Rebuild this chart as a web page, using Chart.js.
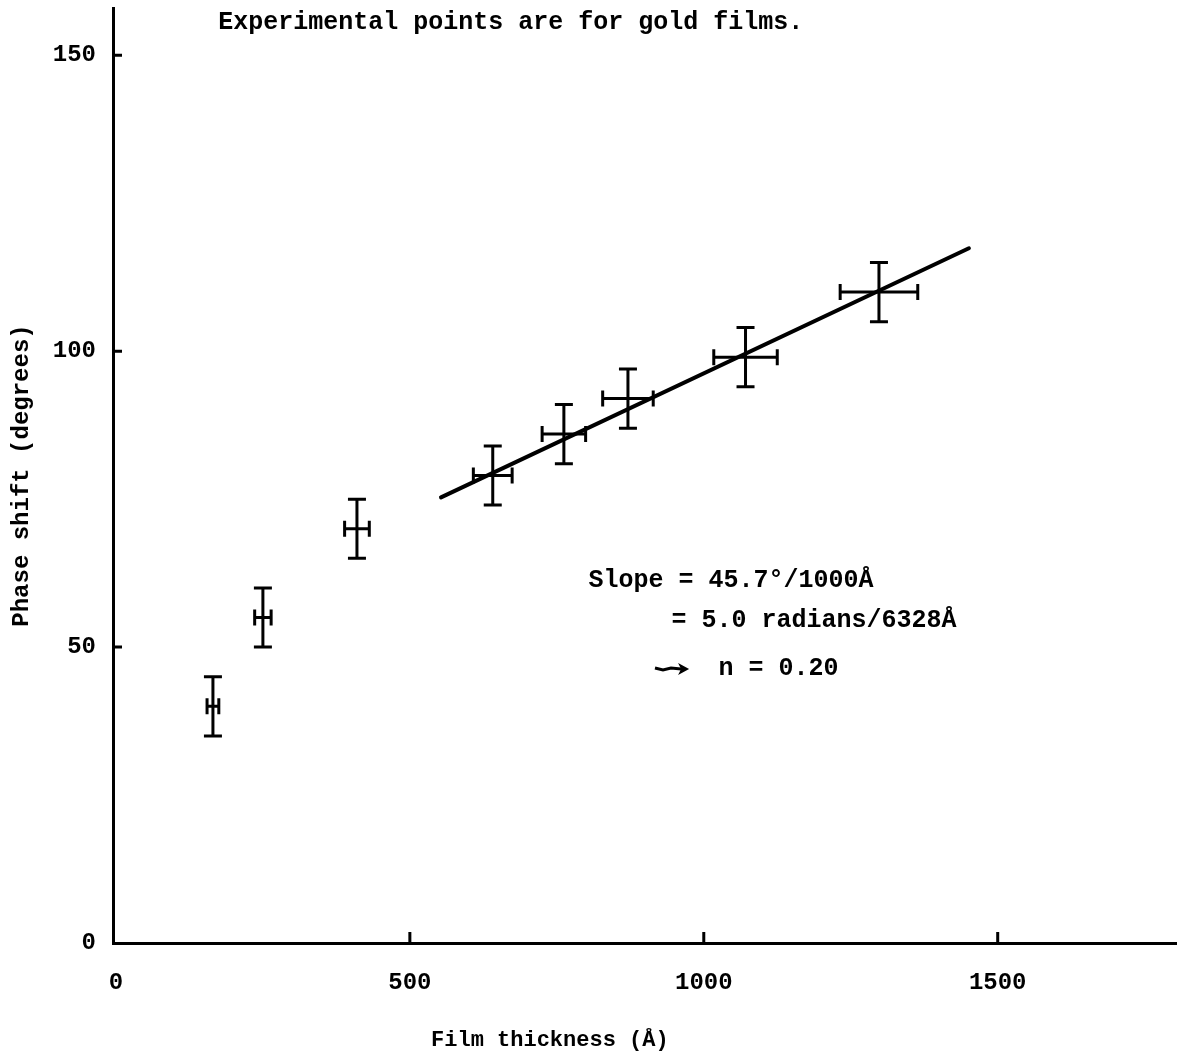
<!DOCTYPE html>
<html>
<head>
<meta charset="utf-8">
<script src="https://cdn.jsdelivr.net/npm/chart.js@4/dist/chart.umd.min.js"></script>
<style>
  html, body { margin: 0; padding: 0; background: #fff; }
  #wrap { width: 1177px; height: 1058px; }
</style>
</head>
<body>
<div id="wrap"><canvas id="myChart"></canvas></div>
<script>
// Data (gold films)
// =======================================================
var thickness = [165, 250, 410, 641, 762, 871, 1071, 1298];
var phase = [40, 55, 70, 79, 86, 92, 99, 110];
var thicknessErr = [10, 14, 21, 33, 37, 43, 54, 66];
var phaseErr = [5, 5, 5, 5, 5, 5, 5, 5];

// straight line fit through the thicker films
var fitX = [553, 1451];
var fitY = [75.3, 117.4];

var xTicks = [0, 500, 1000, 1500];
var yTicks = [0, 50, 100, 150];

var FONT = "'Liberation Mono', 'DejaVu Sans Mono', monospace";

var points = thickness.map(function (t, i) { return { x: t, y: phase[i] }; });
var fitLine = fitX.map(function (t, i) { return { x: t, y: fitY[i] }; });

// Error bars drawn through the scales
// =======================================================
var errorBars = {
    id: "errorBars",
    afterDatasetsDraw: function (chart) {
        var ctx = chart.ctx;
        var xs = chart.scales.x;
        var ys = chart.scales.y;
        ctx.save();
        ctx.strokeStyle = "#000";
        ctx.lineWidth = 3;
        ctx.lineCap = "butt";
        for (var i = 0; i < thickness.length; i++) {
            var cx = xs.getPixelForValue(thickness[i]);
            var cy = ys.getPixelForValue(phase[i]);
            var x0 = xs.getPixelForValue(thickness[i] - thicknessErr[i]);
            var x1 = xs.getPixelForValue(thickness[i] + thicknessErr[i]);
            var y0 = ys.getPixelForValue(phase[i] - phaseErr[i]);
            var y1 = ys.getPixelForValue(phase[i] + phaseErr[i]);
            ctx.beginPath();
            // vertical bar + caps
            ctx.moveTo(cx, y0); ctx.lineTo(cx, y1);
            ctx.moveTo(cx - 9, y0); ctx.lineTo(cx + 9, y0);
            ctx.moveTo(cx - 9, y1); ctx.lineTo(cx + 9, y1);
            // horizontal bar + caps
            ctx.moveTo(x0, cy); ctx.lineTo(x1, cy);
            ctx.moveTo(x0, cy - 8); ctx.lineTo(x0, cy + 8);
            ctx.moveTo(x1, cy - 8); ctx.lineTo(x1, cy + 8);
            ctx.stroke();
        }
        ctx.restore();
    }
};

// Inward tick marks, x title and the typed notes
// =======================================================
var extras = {
    id: "extras",
    afterDraw: function (chart) {
        var ctx = chart.ctx;
        var xs = chart.scales.x;
        var ys = chart.scales.y;
        var area = chart.chartArea;
        ctx.save();
        ctx.strokeStyle = "#000";
        ctx.lineWidth = 3;
        ctx.beginPath();
        xTicks.forEach(function (v) {
            if (v === 0) return;
            var px = xs.getPixelForValue(v);
            ctx.moveTo(px, area.bottom); ctx.lineTo(px, area.bottom - 11);
        });
        yTicks.forEach(function (v) {
            if (v === 0) return;
            var py = ys.getPixelForValue(v);
            ctx.moveTo(area.left, py); ctx.lineTo(area.left + 9, py);
        });
        ctx.stroke();

        ctx.fillStyle = "#000";
        ctx.textBaseline = "middle";
        ctx.textAlign = "left";
        ctx.font = "bold 25px " + FONT;
        ctx.fillText("Experimental points are for gold films.", xs.getPixelForValue(174), ys.getPixelForValue(155.5));
        ctx.fillText("Slope = 45.7°/1000Å", xs.getPixelForValue(804), ys.getPixelForValue(61.3));
        ctx.fillText("= 5.0 radians/6328Å", xs.getPixelForValue(945), ys.getPixelForValue(54.5));
        ctx.fillText("n = 0.20", xs.getPixelForValue(1025), ys.getPixelForValue(46.3));

        // arrow in front of n = 0.20
        var ay = ys.getPixelForValue(46.3);
        var ax0 = xs.getPixelForValue(917);
        var ax1 = xs.getPixelForValue(975);
        ctx.lineWidth = 3;
        ctx.beginPath();
        ctx.moveTo(ax0, ay - 1);
        ctx.lineTo(ax0 + 8, ay + 1);
        ctx.lineTo(ax0 + 16, ay - 1);
        ctx.lineTo(ax1 - 8, ay);
        ctx.stroke();
        ctx.beginPath();
        ctx.moveTo(ax1, ay);
        ctx.lineTo(ax1 - 11, ay - 6);
        ctx.lineTo(ax1 - 8, ay);
        ctx.lineTo(ax1 - 11, ay + 6);
        ctx.closePath();
        ctx.fill();

        // x axis title, typed left of the axis centre
        ctx.font = "bold 22px " + FONT;
        ctx.fillText("Film thickness (Å)", xs.getPixelForValue(536), area.bottom + 97);
        ctx.restore();
    }
};

var ctx = document.getElementById("myChart");

var myChart = new Chart(ctx, {
    type: "scatter",
    data: {
        datasets: [{
            label: "gold films",
            data: points,
            pointRadius: 0,
            showLine: false
        }, {
            label: "fit",
            data: fitLine,
            showLine: true,
            borderColor: "#000",
            borderWidth: 4,
            pointRadius: 0,
            borderCapStyle: "round"
        }]
    },
    options: {
        responsive: true,
        maintainAspectRatio: false,
        animation: false,
        layout: {
            padding: { left: 0, right: 0, top: 8, bottom: 0 }
        },
        plugins: {
            legend: { display: false },
            tooltip: { enabled: false }
        },
        scales: {
            x: {
                type: "linear",
                min: -5,
                max: 1805,
                afterFit: function (s) {
                    s.height = 115;
                    s.paddingLeft = 0;
                    s.paddingRight = 0;
                },
                afterBuildTicks: function (s) {
                    s.ticks = xTicks.map(function (v) { return { value: v }; });
                },
                grid: { display: false, drawTicks: false },
                border: { display: true, color: "#000", width: 3 },
                ticks: {
                    padding: 26,
                    maxRotation: 0,
                    autoSkip: false,
                    color: "#000",
                    font: { family: FONT, size: 24, weight: "bold" },
                    callback: function (v) { return String(v); }
                },
                title: { display: false }
            },
            y: {
                type: "linear",
                min: 0,
                max: 158,
                afterFit: function (s) {
                    s.width = 113;
                    s.paddingTop = 0;
                    s.paddingBottom = 0;
                },
                afterBuildTicks: function (s) {
                    s.ticks = yTicks.map(function (v) { return { value: v }; });
                },
                grid: { display: false, drawTicks: false },
                border: { display: true, color: "#000", width: 3 },
                ticks: {
                    padding: 17,
                    autoSkip: false,
                    color: "#000",
                    font: { family: FONT, size: 24, weight: "bold" },
                    callback: function (v) { return String(v); }
                },
                title: {
                    display: true,
                    text: "Phase shift (degrees)",
                    color: "#000",
                    padding: { top: 8, bottom: 0 },
                    font: { family: FONT, size: 24, weight: "bold" }
                }
            }
        }
    },
    plugins: [errorBars, extras]
});
</script>
</body>
</html>
